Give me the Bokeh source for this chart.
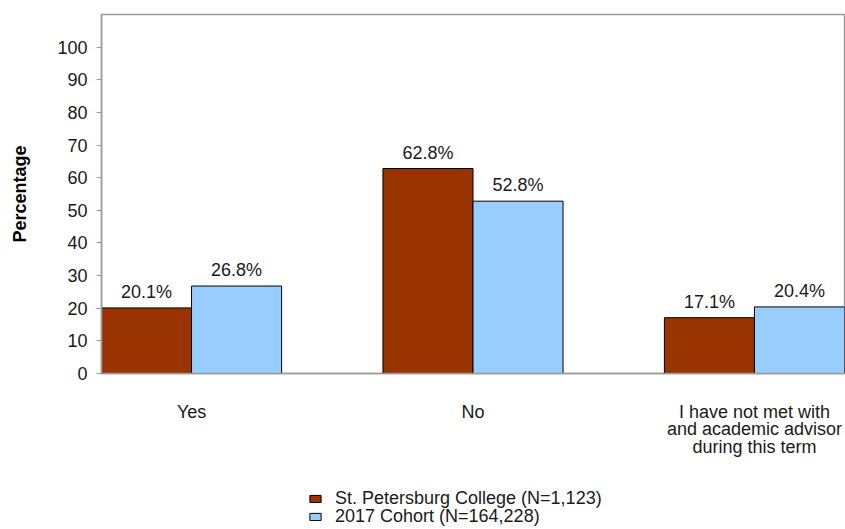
from bokeh.plotting import figure
from bokeh.layouts import column
from bokeh.models import (ColumnDataSource, FixedTicker, Range1d, Legend, LegendItem)
from bokeh.core.properties import value
from bokeh.transform import dodge
from bokeh.embed import file_html
from bokeh.resources import INLINE

# Survey responses: met with an academic advisor this term?
categories = ["Yes", "No", "I have not met with\nand academic advisor\nduring this term"]
college_values = [20.1, 62.8, 17.1]
cohort_values = [26.8, 52.8, 20.4]
series_names = ["St. Petersburg College (N=1,123)", "2017 Cohort (N=164,228)"]
y_ticks = [0, 10, 20, 30, 40, 50, 60, 70, 80, 90, 100]

FONT = "Liberation Sans"
FS = "18px"
TEXT_COLOR = "#1a1a1a"
AXIS_GRAY = "#9a9a9a"
COLLEGE_COLOR = "#993300"
COHORT_COLOR = "#99CCFF"
BAR_W = 0.32

positions = list(range(len(categories)))
src = ColumnDataSource(data=dict(
    x=positions,
    college=college_values,
    cohort=cohort_values,
    college_lbl=[f"{v:.1f}%" for v in college_values],
    cohort_lbl=[f"{v:.1f}%" for v in cohort_values],
))

p = figure(width=845, height=480, output_backend="svg", toolbar_location=None,
           x_range=Range1d(-BAR_W, len(categories) - 1 + BAR_W),
           y_range=Range1d(0, 110))
p.min_border_left = 101
p.min_border_right = 1
p.min_border_top = 14
p.min_border_bottom = 107
p.background_fill_color = "white"
p.border_fill_color = "white"
p.outline_line_color = AXIS_GRAY
p.outline_line_width = 1.5
p.grid.visible = False

bar_styles = dict(line_color="black", line_width=1)
r1 = p.vbar(x=dodge("x", -BAR_W / 2, range=p.x_range), top="college", width=BAR_W,
            source=src, fill_color=COLLEGE_COLOR, **bar_styles)
r2 = p.vbar(x=dodge("x", BAR_W / 2, range=p.x_range), top="cohort", width=BAR_W,
            source=src, fill_color=COHORT_COLOR, **bar_styles)

# value labels above each bar
for off, col, lbl in [(-BAR_W / 2, "college", "college_lbl"), (BAR_W / 2, "cohort", "cohort_lbl")]:
    p.text(x=dodge("x", off, range=p.x_range), y=col, text=lbl, source=src,
           text_align="center", text_baseline="alphabetic", y_offset=-16,
           text_font=value(FONT), text_font_size=FS, text_color=TEXT_COLOR)

# y axis
p.yaxis.ticker = FixedTicker(ticks=y_ticks)
p.yaxis.axis_label = "Percentage"
p.yaxis.axis_label_text_font = FONT
p.yaxis.axis_label_text_font_size = FS
p.yaxis.axis_label_text_font_style = "bold"
p.yaxis.axis_label_text_color = "black"
p.yaxis.axis_label_standoff = 24
p.yaxis.major_label_text_font = FONT
p.yaxis.major_label_text_font_size = FS
p.yaxis.major_label_text_color = TEXT_COLOR
p.yaxis.major_label_standoff = 9
p.yaxis.axis_line_color = AXIS_GRAY
p.yaxis.axis_line_width = 1.5
p.yaxis.major_tick_line_color = AXIS_GRAY
p.yaxis.major_tick_out = 5
p.yaxis.major_tick_in = 0
p.yaxis.minor_tick_line_color = None

# x axis with category names
p.xaxis.ticker = FixedTicker(ticks=positions)
p.xaxis.major_label_overrides = {i: c for i, c in zip(positions, categories)}
p.xaxis.major_label_text_font = FONT
p.xaxis.major_label_text_font_size = FS
p.xaxis.major_label_text_color = TEXT_COLOR
p.xaxis.major_label_text_line_height = 0.88
p.xaxis.major_label_standoff = 22
p.xaxis.axis_line_color = AXIS_GRAY
p.xaxis.axis_line_width = 1.5
p.xaxis.major_tick_line_color = None
p.xaxis.minor_tick_line_color = None

# legend strip underneath the chart; its bars sit outside the visible range
lp = figure(width=845, height=49, output_backend="svg", toolbar_location=None,
            x_axis_location=None, y_axis_location=None,
            x_range=Range1d(-BAR_W, len(categories) - 1 + BAR_W),
            y_range=Range1d(1000, 1001))
lp.min_border = 0
lp.outline_line_color = None
lp.grid.visible = False
k1 = lp.vbar(x="x", top="college", width=BAR_W, source=src,
             fill_color=COLLEGE_COLOR, **bar_styles)
k2 = lp.vbar(x="x", top="cohort", width=BAR_W, source=src,
             fill_color=COHORT_COLOR, **bar_styles)

# one legend per series so the two rows can sit close together
for name, rend, loc in [(series_names[0], k1, (207, 20)), (series_names[1], k2, (207, 2))]:
    lg = Legend(items=[LegendItem(label=name, renderers=[rend])], location=loc)
    lg.label_text_font = FONT
    lg.label_text_font_size = FS
    lg.label_text_color = TEXT_COLOR
    lg.glyph_width = 14
    lg.glyph_height = 9
    lg.label_height = 18
    lg.label_standoff = 13
    lg.spacing = 0
    lg.padding = 0
    lg.margin = 0
    lg.border_line_color = None
    lg.background_fill_alpha = 0
    lp.add_layout(lg, "center")

layout = column(p, lp, spacing=0)
open("out.html", "w").write(file_html(layout, INLINE))
